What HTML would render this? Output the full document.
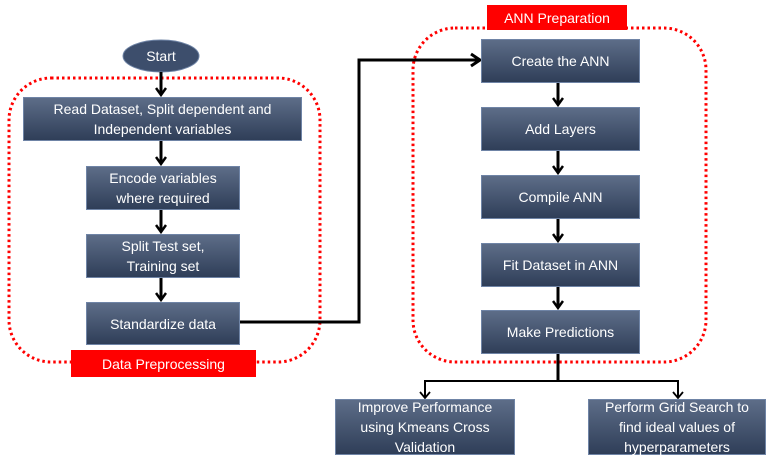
<!DOCTYPE html>
<html><head><style>
body{margin:0;background:#fff;width:774px;height:463px;position:relative;overflow:hidden;font-family:"Liberation Sans",sans-serif}
.b{position:absolute;background:linear-gradient(#5d6d88,#2f3e58);border:1px solid #6f84a6;color:#fff;font-size:14px;display:flex;align-items:center;justify-content:center;text-align:center;line-height:20px;box-sizing:border-box}
.lab{position:absolute;background:#f00;color:#fff;font-size:14px;display:flex;align-items:center;justify-content:center}
</style></head><body>
<svg width="774" height="463" style="position:absolute;left:0;top:0">
<defs><marker id="a" markerWidth="12" markerHeight="12" refX="8" refY="6" orient="auto" markerUnits="userSpaceOnUse"><path d="M1,1 L8,6 L1,11" fill="none" stroke="#000" stroke-width="2.5"/></marker></defs>
<rect x="9" y="78" width="311" height="284" rx="42" fill="none" stroke="#f00" stroke-width="3" stroke-dasharray="2.5 3"/>
<rect x="413" y="28" width="293" height="334" rx="42" fill="none" stroke="#f00" stroke-width="3" stroke-dasharray="2.5 3"/>
<ellipse cx="161" cy="56" rx="38" ry="16" fill="#3d4e6c" stroke="#6f84a6"/>
<g stroke="#000" stroke-width="3" fill="none">
<line x1="161" y1="72" x2="161" y2="95" marker-end="url(#a)"/>
<line x1="161" y1="141" x2="161" y2="164" marker-end="url(#a)"/>
<line x1="161" y1="210" x2="161" y2="232" marker-end="url(#a)"/>
<line x1="161" y1="278" x2="161" y2="300" marker-end="url(#a)"/>
<line x1="558" y1="83" x2="558" y2="105" marker-end="url(#a)"/>
<line x1="558" y1="151" x2="558" y2="173" marker-end="url(#a)"/>
<line x1="558" y1="219" x2="558" y2="241" marker-end="url(#a)"/>
<line x1="558" y1="287" x2="558" y2="308" marker-end="url(#a)"/>
<polyline points="240,322 359,322 359,60 479,60"/>
<line x1="558" y1="354" x2="558" y2="381"/>
</g>
<g stroke="#000" stroke-width="2" fill="none">
<polyline points="425,398 425,381 678,381 678,398"/>
<path d="M420,392 L425,398 L430,392 M673,392 L678,398 L683,392" stroke-width="1.8"/>
</g>
<path d="M471,54 L480,60 L471,66" fill="none" stroke="#000" stroke-width="3"/>
<text x="161" y="61" fill="#fff" font-size="14" text-anchor="middle" font-family="Liberation Sans">Start</text>
</svg>
<div class="b" style="left:23px;top:97px;width:279px;height:44px">Read Dataset, Split dependent and<br>Independent variables</div>
<div class="b" style="left:86px;top:166px;width:154px;height:44px">Encode variables<br>where required</div>
<div class="b" style="left:86px;top:234px;width:154px;height:44px">Split Test set,<br>Training set</div>
<div class="b" style="left:86px;top:302px;width:154px;height:43px">Standardize data</div>
<div class="lab" style="left:71px;top:350px;width:185px;height:27px">Data Preprocessing</div>
<div class="lab" style="left:487px;top:5px;width:140px;height:25px">ANN Preparation</div>
<div class="b" style="left:481px;top:39px;width:159px;height:44px">Create the ANN</div>
<div class="b" style="left:481px;top:107px;width:159px;height:44px">Add Layers</div>
<div class="b" style="left:481px;top:175px;width:159px;height:44px">Compile ANN</div>
<div class="b" style="left:481px;top:243px;width:159px;height:44px">Fit Dataset in ANN</div>
<div class="b" style="left:481px;top:310px;width:159px;height:44px">Make Predictions</div>
<div class="b" style="left:335px;top:399px;width:180px;height:56px">Improve Performance<br>using Kmeans Cross<br>Validation</div>
<div class="b" style="left:588px;top:399px;width:178px;height:56px">Perform Grid Search to<br>find ideal values of<br>hyperparameters</div>
</body></html>
